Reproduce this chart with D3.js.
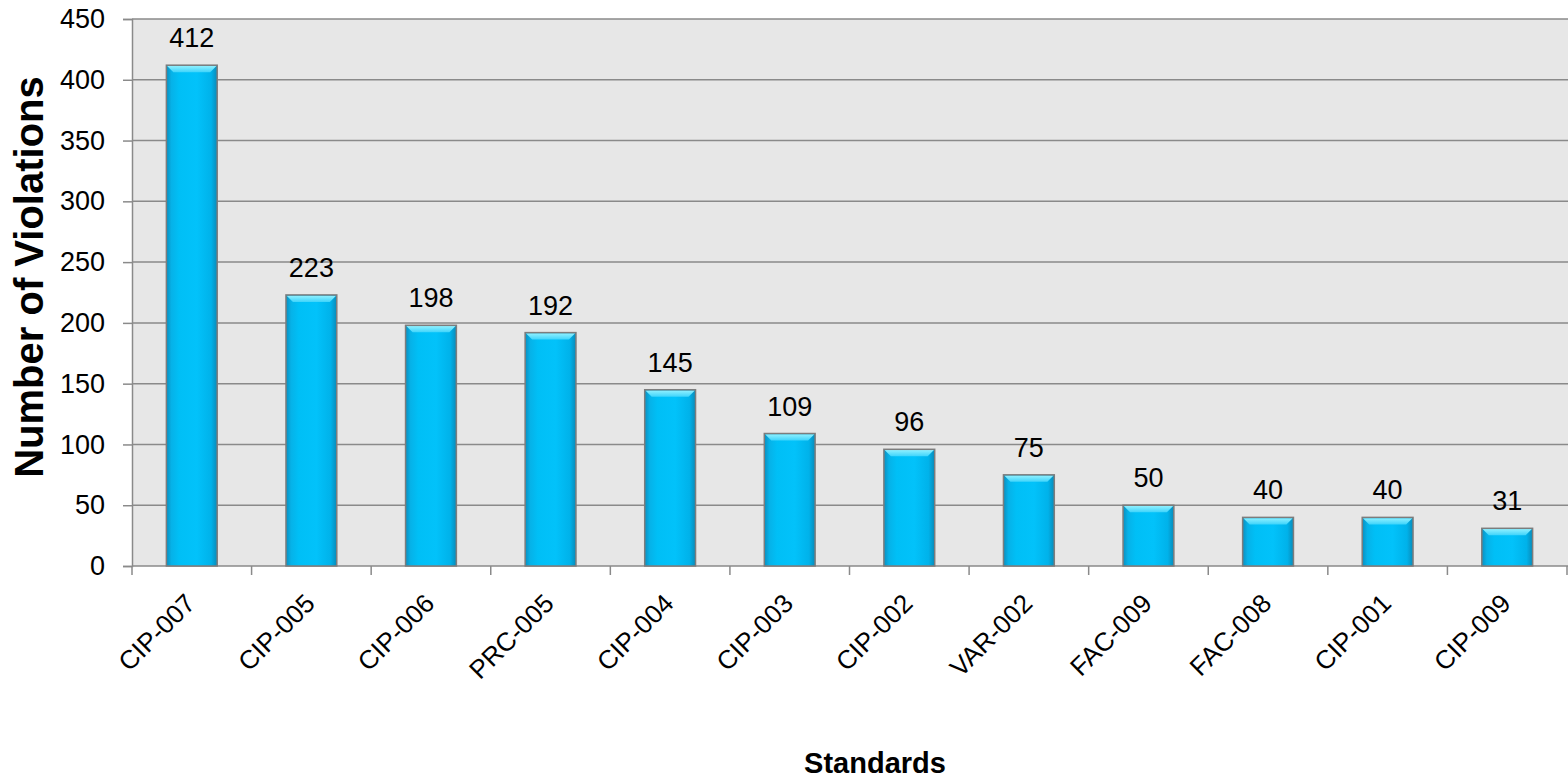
<!DOCTYPE html>
<html>
<head>
<meta charset="utf-8">
<script src="https://cdn.jsdelivr.net/npm/d3@7"></script>
<style>
  html, body { margin: 0; padding: 0; background: #ffffff; }
  svg { display: block; }
</style>
</head>
<body>
<svg id="chart" width="1568" height="779"></svg>
<script>
const categories = ["CIP-007","CIP-005","CIP-006","PRC-005","CIP-004","CIP-003","CIP-002","VAR-002","FAC-009","FAC-008","CIP-001","CIP-009"];
const violations = [412,223,198,192,145,109,96,75,50,40,40,31];
const yTicks = [0,50,100,150,200,250,300,350,400,450];
const yTitle = "Number of Violations";
const xTitle = "Standards";

const svg = d3.select("#chart");
const plot = {left: 132, right: 1567, top: 19, bottom: 566};

const x = d3.scaleBand().domain(categories).range([plot.left, plot.right]).paddingInner(0.575).paddingOuter(0.2875);
const y = d3.scaleLinear().domain([0, 450]).range([plot.bottom, plot.top]);

const defs = svg.append("defs");
const g1 = defs.append("linearGradient").attr("id","barGrad").attr("x1","0").attr("x2","1").attr("y1","0").attr("y2","0");
[["0%","#0a8fc0"],["10%","#06b2e8"],["25%","#00bff6"],["60%","#02c2fa"],["88%","#00b2ea"],["100%","#0a8ab8"]]
  .forEach(([o,c]) => g1.append("stop").attr("offset",o).attr("stop-color",c));
const g2 = defs.append("linearGradient").attr("id","topGrad").attr("x1","0").attr("x2","0").attr("y1","0").attr("y2","1");
[["0%","#8ff0ff"],["100%","#3fd4fb"]].forEach(([o,c]) => g2.append("stop").attr("offset",o).attr("stop-color",c));

// plot background
svg.append("rect").attr("x", plot.left).attr("y", plot.top)
  .attr("width", plot.right - plot.left + 1).attr("height", plot.bottom - plot.top)
  .attr("fill", "#e7e7e7");

// gridlines
svg.append("g").selectAll("line").data(yTicks).join("line")
  .attr("x1", plot.left).attr("x2", 1568)
  .attr("y1", d => y(d)).attr("y2", d => y(d))
  .attr("stroke", "#8a8a8a").attr("stroke-width", 1.5);

// y axis
const yAxis = d3.axisLeft(y).tickValues(yTicks).tickSize(9).tickPadding(18);
const gy = svg.append("g").attr("transform", `translate(${plot.left},0)`).call(yAxis);
gy.select(".domain").attr("stroke","#8a8a8a").attr("stroke-width",1.5);
gy.selectAll(".tick line").attr("stroke","#8a8a8a").attr("stroke-width",1.5);
gy.selectAll(".tick text").attr("font-family","'Liberation Sans', Arial, sans-serif").attr("font-size",27).attr("fill","#000");

// x axis ticks between categories
const bounds = d3.range(categories.length + 1).map(i => plot.left + i * (plot.right - plot.left) / categories.length);
svg.append("g").selectAll("line").data(bounds).join("line")
  .attr("x1", d => d).attr("x2", d => d)
  .attr("y1", plot.bottom).attr("y2", plot.bottom + 9)
  .attr("stroke","#8a8a8a").attr("stroke-width",1.5);

// bars
const bars = svg.append("g").selectAll("g").data(categories.map((c,i)=>({c, v: violations[i]}))).join("g");
bars.append("rect")
  .attr("x", d => x(d.c)).attr("y", d => y(d.v))
  .attr("width", x.bandwidth()).attr("height", d => y(0) - y(d.v))
  .attr("fill","url(#barGrad)");
const bev = 7;
bars.append("path")
  .attr("d", d => {
    const x0 = x(d.c), x1 = x0 + x.bandwidth(), t = y(d.v);
    return `M${x0+0.75},${t+0.75}L${x1-0.75},${t+0.75}L${x1-bev},${t+bev}L${x0+bev},${t+bev}Z`;
  })
  .attr("fill","url(#topGrad)");
bars.append("rect")
  .attr("x", d => x(d.c)).attr("y", d => y(d.v))
  .attr("width", x.bandwidth()).attr("height", d => y(0) - y(d.v))
  .attr("fill","none").attr("stroke","#7d7d7d").attr("stroke-width",1.5);

// value labels
bars.append("text")
  .attr("x", d => x(d.c) + x.bandwidth()/2).attr("y", d => y(d.v) - 18)
  .attr("text-anchor","middle")
  .attr("font-family","'Liberation Sans', Arial, sans-serif").attr("font-size",27).attr("fill","#000")
  .text(d => d.v);

// x category labels
svg.append("g").selectAll("text").data(categories).join("text")
  .attr("transform", d => `translate(${x(d) + x.bandwidth()/2 + 5},${605}) rotate(-45)`)
  .attr("text-anchor","end")
  .attr("font-family","'Liberation Sans', Arial, sans-serif").attr("font-size",26).attr("fill","#000")
  .text(d => d);

// axis titles
svg.append("text")
  .attr("transform", `translate(43,${277}) rotate(-90)`)
  .attr("text-anchor","middle")
  .attr("font-family","'Liberation Sans', Arial, sans-serif").attr("font-weight","bold").attr("font-size",40).attr("fill","#000")
  .text(yTitle);

svg.append("text")
  .attr("x", 875).attr("y", 773)
  .attr("text-anchor","middle")
  .attr("font-family","'Liberation Sans Narrow', 'Arial Narrow', 'Liberation Sans', sans-serif").attr("font-weight","bold").attr("font-size",29).attr("fill","#000")
  .text(xTitle);
</script>
</body>
</html>
